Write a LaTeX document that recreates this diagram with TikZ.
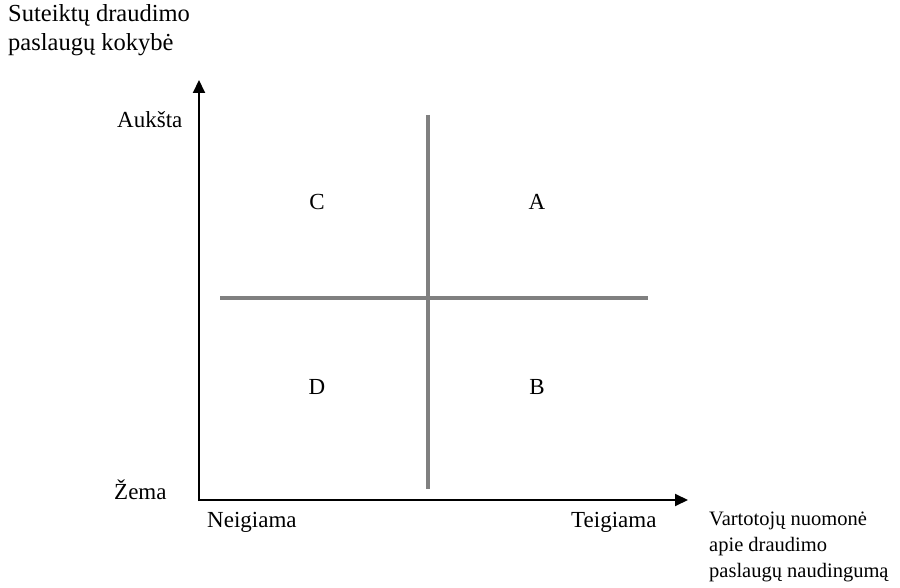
\documentclass[tikz,border=0pt]{standalone}
\usepackage{fontspec}
\setmainfont{Liberation Serif}
\usepackage{tikz}
\usetikzlibrary{arrows.meta,positioning,calc}

\begin{document}
\begin{tikzpicture}[x=1pt,y=1pt,
  every node/.style={font=\fontsize{23}{28}\selectfont,inner sep=0pt},
  axis/.style={line width=2pt,-{Triangle[length=13pt,width=12pt]}},
  divider/.style={line width=4pt,color=gray}]
  \useasboundingbox (0,0) rectangle (900,587);
  % axes
  \coordinate (O) at (199,87);
  \coordinate (Ytop) at (199,507);
  \coordinate (Xend) at (688,87);
  \draw[axis] ($(O)+(0,-1)$) -- (Ytop);
  \draw[axis] ($(O)+(-1,0)$) -- (Xend);
  % quadrant dividers
  \coordinate (Vtop) at (428,472);
  \coordinate (Vbot) at (428,98);
  \coordinate (Hleft) at (220,289);
  \coordinate (Hright) at (648,289);
  \draw[divider] (Vtop) -- (Vbot);
  \draw[divider] (Hleft) -- (Hright);
  % axis titles
  \node[anchor=north west,align=left,font=\fontsize{24.5}{29}\selectfont] (ytitle) at (8,583) {Suteiktų draudimo\\paslaugų kokybė};
  \node[anchor=north west,align=left,font=\fontsize{20.5}{26}\selectfont] (xtitle) at (709,75) {Vartotojų nuomonė\\apie draudimo\\paslaugų naudingumą};
  % scale labels
  \node[anchor=west] (high) at (117,467) {Aukšta};
  \node[anchor=west] (low) at (114,97) {Žema};
  \node[anchor=west] (neg) at (207,65) {Neigiama};
  \node[anchor=west] (pos) at (571,65) {Teigiama};
  % quadrants
  \node (qC) at (317,385) {C};
  \node (qA) at (537,385) {A};
  \node (qD) at (317,200) {D};
  \node (qB) at (537,200) {B};
\end{tikzpicture}
\end{document}
